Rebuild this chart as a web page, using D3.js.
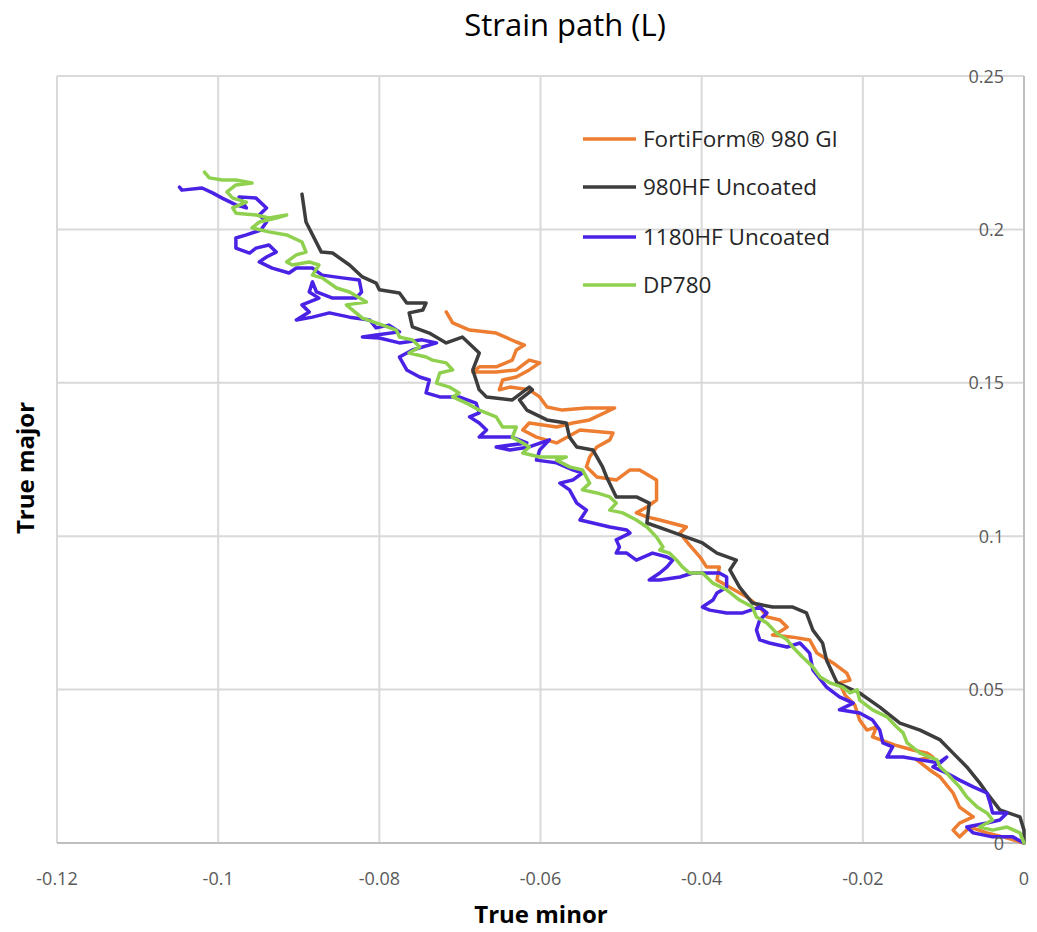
<!DOCTYPE html>
<html><head><meta charset="utf-8">
<script src="https://cdn.jsdelivr.net/npm/d3@7"></script>
<style>body{margin:0;background:#fff;} svg{display:block;font-family:"Open Sans",sans-serif;}</style>
</head><body>
<svg id="chart" width="1037" height="932"></svg>
<script>
const seriesNames = ["FortiForm® 980 GI", "980HF Uncoated", "1180HF Uncoated", "DP780"];
const seriesColors = ["#ed7d31", "#3d3d3d", "#4a22e6", "#8fd14f"];
const xTicks = [-0.12, -0.1, -0.08, -0.06, -0.04, -0.02, 0];
const xTickLabels = ["-0.12", "-0.1", "-0.08", "-0.06", "-0.04", "-0.02", "0"];
const yTicks = [0, 0.05, 0.1, 0.15, 0.2, 0.25];
const yTickLabels = ["0", "0.05", "0.1", "0.15", "0.2", "0.25"];

// [true minor, true major]
const fortiform = [[-0.0717,0.1731],[-0.0709,0.1695],[-0.0688,0.1672],[-0.0655,0.1662],[-0.0630,0.1633],[-0.0620,0.1623],[-0.0630,0.1607],[-0.0635,0.1574],[-0.0655,0.1552],[-0.0676,0.1552],[-0.0684,0.1535],[-0.0655,0.1535],[-0.0630,0.1542],[-0.0614,0.1574],[-0.0601,0.1565],[-0.0614,0.1542],[-0.0630,0.1519],[-0.0647,0.1509],[-0.0651,0.1477],[-0.0638,0.1486],[-0.0614,0.1477],[-0.0601,0.1454],[-0.0592,0.1421],[-0.0573,0.1411],[-0.0543,0.1418],[-0.0508,0.1418],[-0.0539,0.1379],[-0.0560,0.1369],[-0.0580,0.1356],[-0.0614,0.1369],[-0.0622,0.1346],[-0.0605,0.1323],[-0.0580,0.1304],[-0.0551,0.1346],[-0.0510,0.1336],[-0.0514,0.1314],[-0.0530,0.1291],[-0.0539,0.1258],[-0.0543,0.1226],[-0.0530,0.1193],[-0.0506,0.1183],[-0.0489,0.1216],[-0.0477,0.1216],[-0.0456,0.1183],[-0.0456,0.1118],[-0.0468,0.1095],[-0.0481,0.1076],[-0.0468,0.1063],[-0.0452,0.1053],[-0.0419,0.1030],[-0.0427,0.1010],[-0.0415,0.0971],[-0.0402,0.0932],[-0.0394,0.0900],[-0.0378,0.0900],[-0.0381,0.0857],[-0.0344,0.0802],[-0.0328,0.0769],[-0.0319,0.0737],[-0.0303,0.0727],[-0.0294,0.0704],[-0.0303,0.0688],[-0.0312,0.0678],[-0.0287,0.0671],[-0.0266,0.0662],[-0.0257,0.0619],[-0.0237,0.0587],[-0.0220,0.0554],[-0.0216,0.0531],[-0.0229,0.0522],[-0.0222,0.0482],[-0.0210,0.0450],[-0.0204,0.0401],[-0.0195,0.0368],[-0.0183,0.0378],[-0.0188,0.0346],[-0.0160,0.0319],[-0.0138,0.0303],[-0.0120,0.0293],[-0.0113,0.0280],[-0.0133,0.0271],[-0.0117,0.0238],[-0.0104,0.0215],[-0.0088,0.0163],[-0.0080,0.0117],[-0.0063,0.0085],[-0.0080,0.0065],[-0.0088,0.0042],[-0.0080,0.0020],[-0.0067,0.0052],[-0.0046,0.0033],[-0.0026,0.0020],[0,0]];

const hf980 = [[-0.0896,0.2115],[-0.0891,0.2024],[-0.0872,0.1926],[-0.0858,0.1923],[-0.0837,0.1884],[-0.0821,0.1845],[-0.0804,0.1825],[-0.0800,0.1803],[-0.0775,0.1793],[-0.0766,0.1760],[-0.0742,0.1760],[-0.0746,0.1737],[-0.0763,0.1728],[-0.0759,0.1682],[-0.0738,0.1662],[-0.0717,0.1630],[-0.0697,0.1649],[-0.0676,0.1597],[-0.0684,0.1542],[-0.0676,0.1477],[-0.0667,0.1454],[-0.0635,0.1444],[-0.0614,0.1486],[-0.0610,0.1477],[-0.0626,0.1444],[-0.0617,0.1411],[-0.0592,0.1379],[-0.0568,0.1369],[-0.0564,0.1323],[-0.0555,0.1291],[-0.0535,0.1281],[-0.0523,0.1226],[-0.0518,0.1193],[-0.0506,0.1128],[-0.0481,0.1128],[-0.0465,0.1108],[-0.0468,0.1043],[-0.0443,0.1020],[-0.0419,0.0997],[-0.0399,0.0978],[-0.0381,0.0945],[-0.0357,0.0922],[-0.0365,0.0890],[-0.0353,0.0834],[-0.0337,0.0782],[-0.0312,0.0769],[-0.0287,0.0769],[-0.0270,0.0750],[-0.0262,0.0694],[-0.0250,0.0652],[-0.0245,0.0596],[-0.0232,0.0522],[-0.0204,0.0489],[-0.0179,0.0443],[-0.0154,0.0391],[-0.0129,0.0368],[-0.0104,0.0336],[-0.0088,0.0293],[-0.0071,0.0248],[-0.0055,0.0196],[-0.0046,0.0163],[-0.0030,0.0108],[-0.0005,0.0085],[0,0.0042],[0,0]];

const hf1180 = [[-0.1048,0.2138],[-0.1045,0.2128],[-0.1020,0.2135],[-0.1007,0.2119],[-0.0995,0.2102],[-0.0978,0.2080],[-0.0965,0.2070],[-0.0974,0.2106],[-0.0953,0.2102],[-0.0940,0.2070],[-0.0949,0.2047],[-0.0940,0.2024],[-0.0947,0.1998],[-0.0965,0.1982],[-0.0978,0.1972],[-0.0978,0.1939],[-0.0961,0.1923],[-0.0953,0.1939],[-0.0937,0.1949],[-0.0928,0.1926],[-0.0940,0.1910],[-0.0949,0.1894],[-0.0933,0.1874],[-0.0912,0.1858],[-0.0903,0.1874],[-0.0883,0.1874],[-0.0871,0.1851],[-0.0846,0.1842],[-0.0825,0.1835],[-0.0822,0.1796],[-0.0829,0.1776],[-0.0858,0.1776],[-0.0878,0.1796],[-0.0883,0.1829],[-0.0887,0.1796],[-0.0875,0.1776],[-0.0896,0.1754],[-0.0887,0.1731],[-0.0903,0.1705],[-0.0883,0.1714],[-0.0862,0.1728],[-0.0837,0.1714],[-0.0812,0.1705],[-0.0804,0.1679],[-0.0788,0.1688],[-0.0775,0.1666],[-0.0804,0.1656],[-0.0821,0.1649],[-0.0800,0.1646],[-0.0775,0.1630],[-0.0747,0.1640],[-0.0729,0.1630],[-0.0759,0.1607],[-0.0775,0.1584],[-0.0766,0.1542],[-0.0750,0.1519],[-0.0738,0.1509],[-0.0742,0.1467],[-0.0725,0.1454],[-0.0701,0.1454],[-0.0680,0.1434],[-0.0676,0.1402],[-0.0688,0.1389],[-0.0676,0.1369],[-0.0667,0.1346],[-0.0676,0.1323],[-0.0660,0.1323],[-0.0635,0.1323],[-0.0617,0.1304],[-0.0655,0.1291],[-0.0638,0.1281],[-0.0614,0.1291],[-0.0589,0.1314],[-0.0601,0.1281],[-0.0605,0.1248],[-0.0580,0.1239],[-0.0560,0.1216],[-0.0548,0.1206],[-0.0560,0.1183],[-0.0576,0.1173],[-0.0564,0.1151],[-0.0555,0.1108],[-0.0543,0.1085],[-0.0551,0.1053],[-0.0535,0.1043],[-0.0514,0.1030],[-0.0493,0.1020],[-0.0489,0.1010],[-0.0506,0.0988],[-0.0502,0.0965],[-0.0506,0.0945],[-0.0493,0.0945],[-0.0481,0.0922],[-0.0461,0.0945],[-0.0443,0.0932],[-0.0436,0.0922],[-0.0443,0.0900],[-0.0452,0.0880],[-0.0465,0.0857],[-0.0452,0.0857],[-0.0427,0.0867],[-0.0411,0.0880],[-0.0394,0.0880],[-0.0378,0.0880],[-0.0369,0.0867],[-0.0369,0.0834],[-0.0381,0.0815],[-0.0386,0.0792],[-0.0399,0.0769],[-0.0390,0.0759],[-0.0369,0.0750],[-0.0349,0.0750],[-0.0328,0.0769],[-0.0319,0.0750],[-0.0328,0.0727],[-0.0332,0.0694],[-0.0328,0.0662],[-0.0316,0.0652],[-0.0294,0.0639],[-0.0278,0.0652],[-0.0266,0.0619],[-0.0262,0.0564],[-0.0245,0.0508],[-0.0229,0.0476],[-0.0212,0.0456],[-0.0229,0.0434],[-0.0204,0.0424],[-0.0188,0.0401],[-0.0179,0.0368],[-0.0175,0.0326],[-0.0163,0.0313],[-0.0170,0.0280],[-0.0150,0.0280],[-0.0129,0.0271],[-0.0104,0.0261],[-0.0096,0.0280],[-0.0113,0.0248],[-0.0096,0.0228],[-0.0080,0.0205],[-0.0063,0.0183],[-0.0046,0.0163],[-0.0042,0.0130],[-0.0039,0.0098],[-0.0021,0.0098],[-0.0030,0.0075],[-0.0046,0.0065],[-0.0071,0.0052],[-0.0063,0.0033],[-0.0039,0.0020],[-0.0014,0.0020],[0,0]];

const dp780 = [[-0.1017,0.2187],[-0.1011,0.2168],[-0.0995,0.2161],[-0.0978,0.2161],[-0.0958,0.2151],[-0.0978,0.2145],[-0.0989,0.2122],[-0.0982,0.2102],[-0.0965,0.2089],[-0.0982,0.2070],[-0.0978,0.2053],[-0.0953,0.2047],[-0.0937,0.2037],[-0.0915,0.2047],[-0.0928,0.2037],[-0.0949,0.2024],[-0.0958,0.2005],[-0.0937,0.1992],[-0.0915,0.1982],[-0.0896,0.1959],[-0.0891,0.1926],[-0.0903,0.1917],[-0.0915,0.1894],[-0.0908,0.1884],[-0.0887,0.1894],[-0.0875,0.1884],[-0.0883,0.1851],[-0.0871,0.1842],[-0.0853,0.1809],[-0.0837,0.1796],[-0.0816,0.1763],[-0.0841,0.1754],[-0.0821,0.1711],[-0.0796,0.1688],[-0.0779,0.1672],[-0.0775,0.1649],[-0.0759,0.1640],[-0.0750,0.1617],[-0.0763,0.1597],[-0.0742,0.1584],[-0.0734,0.1574],[-0.0717,0.1565],[-0.0709,0.1542],[-0.0725,0.1532],[-0.0729,0.1499],[-0.0713,0.1486],[-0.0701,0.1467],[-0.0709,0.1454],[-0.0692,0.1434],[-0.0676,0.1411],[-0.0655,0.1389],[-0.0647,0.1356],[-0.0630,0.1356],[-0.0635,0.1323],[-0.0622,0.1304],[-0.0614,0.1291],[-0.0622,0.1271],[-0.0601,0.1258],[-0.0580,0.1258],[-0.0568,0.1258],[-0.0580,0.1248],[-0.0564,0.1226],[-0.0548,0.1216],[-0.0539,0.1173],[-0.0548,0.1151],[-0.0530,0.1141],[-0.0514,0.1128],[-0.0506,0.1108],[-0.0514,0.1085],[-0.0498,0.1076],[-0.0481,0.1053],[-0.0468,0.1030],[-0.0456,0.0997],[-0.0448,0.0965],[-0.0452,0.0955],[-0.0440,0.0945],[-0.0431,0.0922],[-0.0424,0.0900],[-0.0415,0.0880],[-0.0399,0.0880],[-0.0386,0.0847],[-0.0369,0.0825],[-0.0353,0.0792],[-0.0337,0.0769],[-0.0332,0.0737],[-0.0319,0.0717],[-0.0307,0.0684],[-0.0294,0.0662],[-0.0287,0.0639],[-0.0275,0.0606],[-0.0262,0.0574],[-0.0253,0.0541],[-0.0241,0.0522],[-0.0225,0.0508],[-0.0216,0.0489],[-0.0207,0.0499],[-0.0204,0.0466],[-0.0188,0.0434],[-0.0170,0.0411],[-0.0158,0.0378],[-0.0150,0.0359],[-0.0145,0.0326],[-0.0129,0.0293],[-0.0108,0.0271],[-0.0104,0.0248],[-0.0096,0.0228],[-0.0088,0.0205],[-0.0080,0.0183],[-0.0071,0.0150],[-0.0058,0.0117],[-0.0046,0.0098],[-0.0039,0.0075],[-0.0055,0.0052],[-0.0039,0.0042],[-0.0021,0.0052],[-0.0005,0.0033],[0,0]];

const allSeries = [fortiform, hf980, hf1180, dp780];

const svg = d3.select("#chart");
const pLeft = 57, pRight = 1024, pTop = 76, pBottom = 843;
const x = d3.scaleLinear().domain([-0.12, 0]).range([pLeft, pRight]);
const y = d3.scaleLinear().domain([0, 0.25]).range([pBottom, pTop]);

// gridlines
const grid = svg.append("g");
grid.selectAll("line.v").data(xTicks).join("line")
  .attr("class","v")
  .attr("x1", d => x(d)).attr("x2", d => x(d)).attr("y1", pTop).attr("y2", pBottom)
  .attr("stroke", "#d9d9d9").attr("stroke-width", 2);
grid.selectAll("line.h").data(yTicks).join("line")
  .attr("class","h")
  .attr("y1", d => y(d)).attr("y2", d => y(d)).attr("x1", pLeft).attr("x2", pRight)
  .attr("stroke", "#d9d9d9").attr("stroke-width", 2);

// axes lines
svg.append("line").attr("x1", pLeft).attr("x2", pRight).attr("y1", y(0)).attr("y2", y(0))
  .attr("stroke", "#bfbfbf").attr("stroke-width", 2);
svg.append("line").attr("x1", x(0)).attr("x2", x(0)).attr("y1", pTop).attr("y2", pBottom)
  .attr("stroke", "#bfbfbf").attr("stroke-width", 2);

// series
const line = d3.line().x(d => x(d[0])).y(d => y(d[1]));
svg.append("g").selectAll("path").data(allSeries).join("path")
  .attr("d", line).attr("fill", "none")
  .attr("stroke", (d, i) => seriesColors[i]).attr("stroke-width", 3.5)
  .attr("stroke-linejoin", "round").attr("stroke-linecap", "round");

// x tick labels
svg.append("g").selectAll("text").data(xTicks).join("text")
  .attr("x", d => x(d)).attr("y", 885).attr("text-anchor", "middle")
  .attr("font-size", 18).attr("fill", "#595959")
  .text((d, i) => xTickLabels[i]);
// y tick labels
svg.append("g").selectAll("text").data(yTicks).join("text")
  .attr("x", 1004).attr("y", d => y(d) + 6.5).attr("text-anchor", "end")
  .attr("font-size", 18).attr("fill", "#595959")
  .text((d, i) => yTickLabels[i]);

// title
svg.append("text").attr("x", 565).attr("y", 36).attr("text-anchor", "middle")
  .attr("font-size", 31).attr("fill", "#000").text("Strain path (L)");
// axis titles
svg.append("text").attr("x", 541).attr("y", 923).attr("text-anchor", "middle")
  .attr("font-size", 24).attr("font-weight", "bold").attr("fill", "#000").text("True minor");
svg.append("text").attr("transform", "translate(34,468) rotate(-90)").attr("text-anchor", "middle")
  .attr("font-size", 24).attr("font-weight", "bold").attr("fill", "#000").text("True major");

// legend
const legendY = [139, 187, 237, 285];
const lg = svg.append("g");
seriesNames.forEach((n, i) => {
  lg.append("line").attr("x1", 583).attr("x2", 636).attr("y1", legendY[i]).attr("y2", legendY[i])
    .attr("stroke", seriesColors[i]).attr("stroke-width", 3.5);
  lg.append("text").attr("x", 643).attr("y", legendY[i] + 8).attr("font-size", 22.5)
    .attr("fill", "#262626").text(n);
});
</script>
</body></html>
